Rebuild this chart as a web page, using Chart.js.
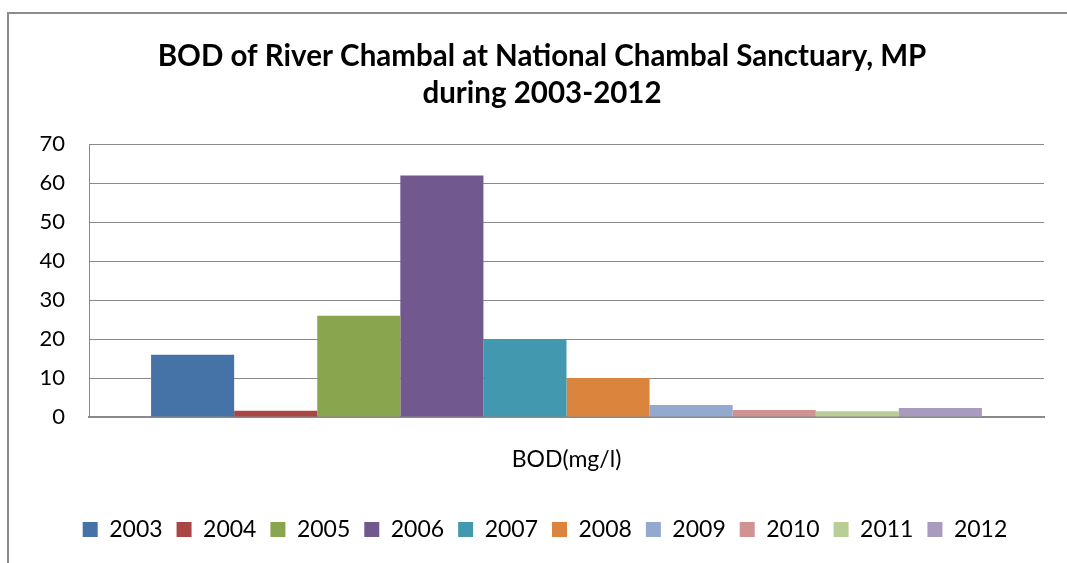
<!DOCTYPE html>
<html>
<head>
<meta charset="utf-8">
<script src="https://cdn.jsdelivr.net/npm/chart.js@4.4.0/dist/chart.umd.min.js"></script>
<style>
  html, body { margin: 0; padding: 0; background: #fff; overflow: hidden; }
  #wrap { position: relative; width: 1067px; height: 563px; overflow: hidden; }
  #frame {
    position: absolute; left: 7px; top: 12px; right: -10px; bottom: -10px;
    border-left: 2px solid #8c8c8c; border-top: 2px solid #8c8c8c;
    pointer-events: none;
  }
  canvas { position: absolute; left: 0; top: 0; }
</style>
</head>
<body>
<div id="wrap">
  <canvas id="bodChart" width="1067" height="563"></canvas>
  <div id="frame"></div>
</div>
<script>
const categories = ['BOD(mg/l)'];
const years = ['2003', '2004', '2005', '2006', '2007', '2008', '2009', '2010', '2011', '2012'];
const bodValues = [16, 1.6, 26, 62, 20, 10, 3.1, 1.8, 1.5, 2.3];
const yearColors = ['#4572A7', '#AA4643', '#89A54E', '#71588F', '#4198AF',
                    '#DB843D', '#93A9CF', '#D19392', '#B9CD96', '#A99BBD'];
const yTicks = [0, 10, 20, 30, 40, 50, 60, 70];

const FONT = 'Lato, "Open Sans", sans-serif';

const datasets = years.map((yr, i) => ({
  label: yr,
  data: [bodValues[i]],
  backgroundColor: yearColors[i],
  borderWidth: 0,
  categoryPercentage: 0.87,
  barPercentage: 1.0
}));

// centre title and legend a bit further right, closer to the plot's middle
const shiftBoxes = {
  id: 'shiftBoxes',
  afterLayout(chart) {
    if (chart.titleBlock) chart.titleBlock.left += 20;
    if (chart.legend) chart.legend.left += 26;
  }
};

new Chart(document.getElementById('bodChart'), {
  type: 'bar',
  data: { labels: categories, datasets },
  plugins: [shiftBoxes],
  options: {
    responsive: false,
    animation: false,
    layout: { padding: { left: 20, right: 23, top: 8, bottom: 12 } },
    scales: {
      y: {
        min: 0, max: 70,
        afterBuildTicks: (s) => { s.ticks = yTicks.map(v => ({ value: v })); },
        afterFit: (s) => { s.width = 69; },
        grid: { color: '#8a8a8a', lineWidth: 1, drawTicks: false },
        border: { color: '#8a8a8a', width: 1 },
        ticks: { color: '#000', padding: 24, font: { family: FONT, size: 22 } }
      },
      x: {
        afterFit: (s) => { s.height = 87; },
        grid: { display: false, drawTicks: false },
        border: { color: '#8a8a8a', width: 2 },
        ticks: { color: '#000', padding: 29, font: { family: FONT, size: 23 } }
      }
    },
    plugins: {
      title: {
        display: true,
        text: ['BOD of River Chambal at National Chambal Sanctuary, MP', 'during 2003-2012'],
        color: '#000',
        font: { family: FONT, size: 29.5, weight: 'bold', lineHeight: 1.26 },
        padding: { top: 30, bottom: 32 }
      },
      legend: {
        position: 'bottom',
        labels: {
          color: '#000',
          boxWidth: 15, boxHeight: 15,
          padding: 14,
          font: { family: FONT, size: 23 }
        }
      },
      tooltip: { enabled: false }
    }
  }
});
</script>
</body>
</html>
